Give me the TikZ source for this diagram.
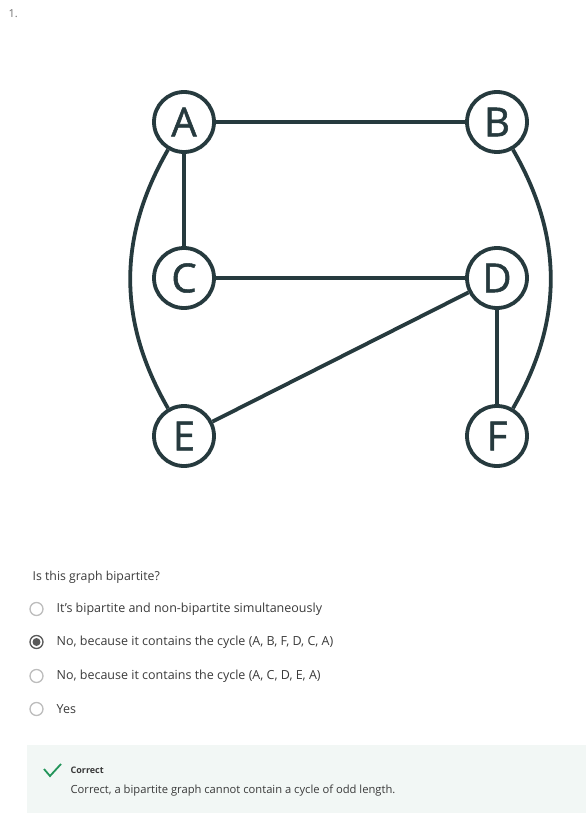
\documentclass[tikz,border=0pt]{standalone}
\usepackage{fontspec}
\setmainfont{Open Sans}
\newfontfamily\vertexfont[FakeBold=1.3]{Open Sans}
\definecolor{edgeink}{HTML}{263A3E}
\definecolor{bodyink}{HTML}{3A3A3A}
\definecolor{numink}{HTML}{707070}
\definecolor{radioring}{HTML}{BDBDBD}
\definecolor{radiosel}{HTML}{5A5A5A}
\definecolor{feedbackbg}{HTML}{F2F7F5}
\definecolor{tickgreen}{HTML}{23955A}

\begin{document}
\begin{tikzpicture}[
    x = 1pt,
    y = 1pt,
    semithick,
    ]

    \tikzstyle{vertex}=[
    circle,
    draw = edgeink,
    line width = 3.8pt,
    fill = white,
    minimum size = 60pt,
    inner sep = 0pt,
    text = edgeink,
    font = \vertexfont\fontsize{40}{40}\selectfont,
    ]
    \tikzstyle{link}=[draw = edgeink, line width = 3.8pt]
    \tikzstyle{radio}=[circle, draw = radioring, line width = 1.3pt, minimum size = 13pt, inner sep = 0pt]
    \tikzstyle{answer}=[anchor = west, text = bodyink, font = \fontsize{12.5}{14}\selectfont]

    \useasboundingbox (0,0) rectangle (586,-813);

    \node[anchor = west, text = numink, font = \fontsize{11}{13}\selectfont] (num) at (5,-14) {1.};

    % the graph
    \node[vertex] (A) at (184,-122) {A};
    \node[vertex] (B) at (497,-122) {B};
    \node[vertex] (C) at (184,-278) {C};
    \node[vertex] (D) at (497,-278) {D};
    \node[vertex] (E) at (184,-436) {E};
    \node[vertex] (F) at (497,-436) {F};

    \path[link] (A) edge (B);
    \path[link] (A) edge (C);
    \path[link] (C) edge (D);
    \path[link] (D) edge (E);
    \path[link] (D) edge (F);
    \path[link] (A) edge[out = 240, in = 120] (E);
    \path[link] (B) edge[out = 300, in = 60] (F);

    % the question
    \node[answer, font = \fontsize{12.3}{14}\selectfont] (q) at (29,-577) {Is this graph bipartite?};

    \node[radio] (r1) at (36.5,-609) {};
    \node[radio, draw = radiosel] (r2) at (36.5,-642) {};
    \node[radio] (r3) at (36.5,-676) {};
    \node[radio] (r4) at (36.5,-709) {};
    \fill[radiosel] (r2) circle (4pt);

    \node[answer] (a1) at (53,-609) {It's bipartite and non-bipartite simultaneously};
    \node[answer] (a2) at (53,-642) {No, because it contains the cycle (A, B, F, D, C, A)};
    \node[answer] (a3) at (53,-676) {No, because it contains the cycle (A, C, D, E, A)};
    \node[answer] (a4) at (53,-709) {Yes};

    % feedback
    \fill[feedbackbg] (27,-745) rectangle (586,-813);
    \draw[tickgreen, line width = 1.8pt] (44,-769) -- (50,-776) -- (61,-764);
    \node[anchor = west, text = bodyink, font = \fontsize{9}{11}\bfseries] (fbhead) at (67,-770) {Correct};
    \node[answer, font = \fontsize{11.2}{13}\selectfont] (fbtext) at (67,-791) {Correct, a bipartite graph cannot contain a cycle of odd length.};
  \end{tikzpicture}
\end{document}
